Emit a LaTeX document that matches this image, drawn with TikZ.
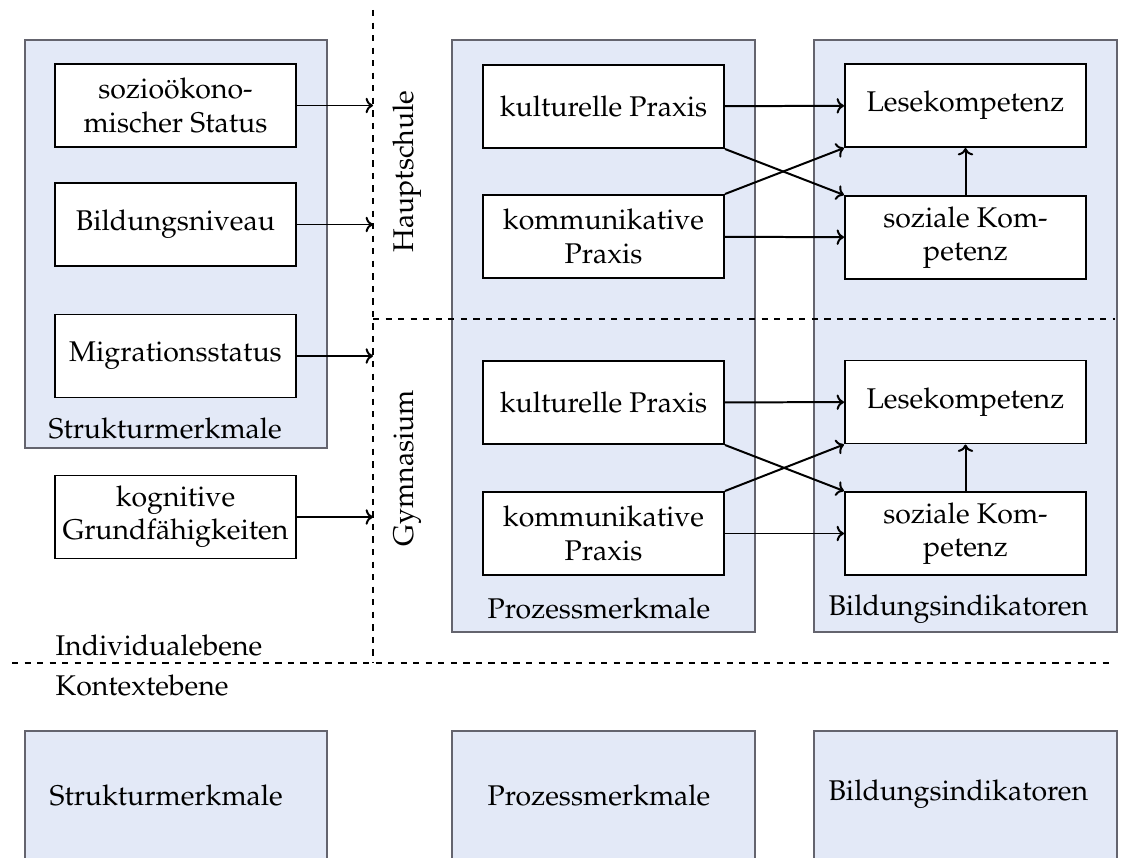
\documentclass[tikz,border=0pt]{standalone}
\usepackage[T1]{fontenc}
\usepackage{mathpazo}
\usetikzlibrary{arrows.meta}
\definecolor{grpfill}{RGB}{227,233,247}
\definecolor{grpline}{RGB}{100,100,110}
\def\pxu{0.351pt}
\begin{document}
\begin{tikzpicture}[x=\pxu,y=-\pxu,
  font=\fontsize{10}{11.6}\selectfont,
  grp/.style={fill=grpfill,draw=grpline,line width=0.45pt},
  item/.style={draw,line width=0.7pt,fill=white,align=center,inner sep=0pt,
    minimum width=241*\pxu,minimum height=83*\pxu},
  conn/.style={-{To[length=2.6pt,width=5.4pt]},line width=0.7pt},
  sep/.style={line width=0.6pt,dash pattern=on 2.2pt off 2.2pt},
  lbl/.style={anchor=base west,inner sep=0pt}]
\clip (0,0) rectangle (1121,858);

% group panels, individual level
\draw[grp] (25,40) rectangle (327,448);
\draw[grp] (452,40) rectangle (755,632);
\draw[grp] (814,40) rectangle (1117,632);
% group panels, context level
\draw[grp] (25,731) rectangle (327,880);
\draw[grp] (452,731) rectangle (755,880);
\draw[grp] (814,731) rectangle (1117,880);

% separators
\coordinate (vtop) at (373,10);
\coordinate (vbot) at (373,663);
\coordinate (hmid) at (1115,319);
\coordinate (hl) at (12,663);
\coordinate (hr) at (1115,663);
\draw[sep] (vtop) -- (vbot);
\draw[sep] (vtop |- hmid) -- (hmid);
\draw[sep] (hl) -- (hr);

% group labels
\node[lbl] (lsm) at (48,438) {Strukturmerkmale};
\node[lbl] (lpm) at (487,618) {Prozessmerkmale};
\node[lbl] (lbi) at (828,615) {Bildungsindikatoren};
\node[lbl] (lind) at (55,655) {Individualebene};
\node[lbl] (lkon) at (55,695) {Kontextebene};
\node[lbl] (lsm2) at (49,805) {Strukturmerkmale};
\node[lbl] (lpm2) at (487,805) {Prozessmerkmale};
\node[lbl] (lbi2) at (828,800) {Bildungsindikatoren};
\node[anchor=base,rotate=90,inner sep=0pt] (haupt) at (413,171.5) {Hauptschule};
\node[anchor=base,rotate=90,inner sep=0pt] (gym) at (413,468) {Gymnasium};

% structural features
\node[item] (soz) at (175.5,105.5) {sozio\"okono-\\mischer Status};
\node[item] (bild) at (175.5,224.5) {Bildungsniveau};
\node[item] (migr) at (175.5,356) {Migrationsstatus};
\node[item] (kog) at (175.5,517) {kognitive\\Grundf\"ahigkeiten};
\foreach \n in {soz,bild,migr,kog}
  \draw[conn] (\n) -- (\n.east -| vtop);

% Hauptschule
\node[item] (kulH) at (603.5,106.5) {kulturelle Praxis};
\node[item] (komH) at (603.5,236.5) {kommunikative\\Praxis};
\node[item] (leseH) at (965.5,105.5) {Lesekompetenz};
\node[item] (sozH) at (965.5,237.5) {soziale Kom-\\petenz};
\draw[conn] (kulH) -- (leseH);
\draw[conn] (komH) -- (sozH);
\draw[conn] (kulH.south east) -- (sozH.north west);
\draw[conn] (komH.north east) -- (leseH.south west);
\draw[conn] (sozH) -- (leseH);

% Gymnasium
\node[item] (kulG) at (603.5,402.5) {kulturelle Praxis};
\node[item] (komG) at (603.5,533.5) {kommunikative\\Praxis};
\node[item] (leseG) at (965.5,402) {Lesekompetenz};
\node[item] (sozG) at (965.5,533.5) {soziale Kom-\\petenz};
\draw[conn] (kulG) -- (leseG);
\draw[conn] (komG) -- (sozG);
\draw[conn] (kulG.south east) -- (sozG.north west);
\draw[conn] (komG.north east) -- (leseG.south west);
\draw[conn] (sozG) -- (leseG);
\end{tikzpicture}
\end{document}
